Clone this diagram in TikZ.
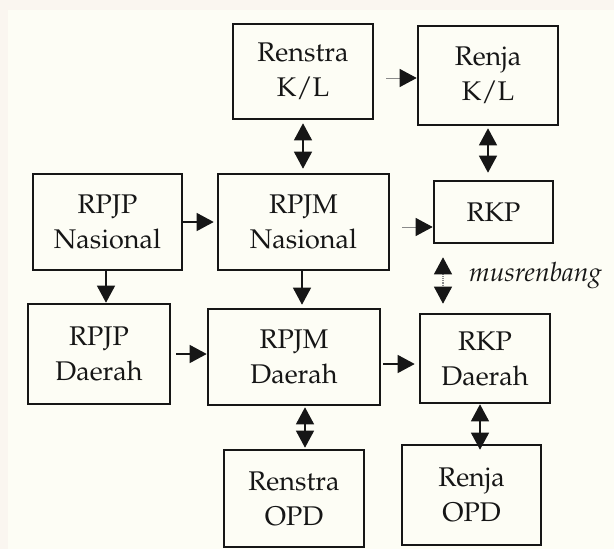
\documentclass[tikz,border=0pt]{standalone}
\usepackage[T1,TU]{fontenc}
\usetikzlibrary{arrows.meta,calc}
\newcommand\palfont{\fontencoding{T1}\fontfamily{ppl}\fontsize{27}{35}\selectfont}
\newcommand\palitfont{\fontencoding{T1}\fontfamily{ppl}\fontshape{it}\fontsize{26.5}{35}\selectfont}
\definecolor{outerbg}{HTML}{FAF6F0}
\definecolor{innerbg}{HTML}{FDFDF5}
\definecolor{ink}{HTML}{161616}
\definecolor{greyline}{HTML}{8A8A8A}
\tikzset{
  box/.style n args={2}{draw=ink, line width=2.6pt, text=ink, inner sep=0pt,
    minimum width=#1, minimum height=#2, align=center, font=\palfont},
  arr/.style={draw=ink, line width=1.3pt, -{Triangle[length=17pt,width=18pt]}},
  garr/.style={draw=greyline, line width=1pt, -{Triangle[length=17pt,width=18pt,color=ink]}},
  dbl/.style={draw=ink, line width=1.3pt, {Triangle[length=17pt,width=18pt]}-{Triangle[length=17pt,width=18pt]}},
  dbldot/.style={draw=greyline, line width=1.1pt, densely dotted, {Triangle[length=17pt,width=18pt,color=ink]}-{Triangle[length=17pt,width=18pt,color=ink]}}
}
\begin{document}
\begin{tikzpicture}[x=1pt,y=-1pt]
\useasboundingbox (0,0) rectangle (614,549);
\fill[outerbg] (0,0) rectangle (614,549);
\fill[innerbg] (8,10) rectangle (614,549);

\node[box={140pt}{95pt}] (rkl) at (303,71.5) {Renstra\\K/L};
\node[box={140pt}{99pt}] (jkl) at (488,75.5) {Renja\\K/L};
\node[box={149pt}{96pt}] (rpjpn) at (107.5,222) {RPJP\\Nasional};
\node[box={171pt}{96pt}] (rpjmn) at (303.5,222) {RPJM\\Nasional};
\node[box={119pt}{62pt}] (rkp) at (493.5,212) {RKP};
\node[box={142pt}{100pt}] (rpjpd) at (99,354) {RPJP\\Daerah};
\node[box={172pt}{96pt}] (rpjmd) at (294,357) {RPJM\\Daerah};
\node[box={130pt}{89pt}] (rkpd) at (485,358.5) {RKP\\Daerah};
\node[box={140pt}{97pt}] (ropd) at (294,498.5) {Renstra\\OPD};
\node[box={139pt}{100pt}] (jopd) at (471.5,495) {Renja\\OPD};
\node[text=ink, font=\palitfont, anchor=west, inner sep=0pt] (mus) at (469,276) {musrenbang};

% connectors
\draw[garr, shorten <=12pt] ([yshift=-6.5pt]rkl.east) -- ([yshift=-6.5pt]rkl.east -| jkl.west);
\draw[dbl, shorten <=3pt, shorten >=4pt] (rkl.south) -- (rkl.south |- rpjmn.north);
\draw[dbl, shorten <=2pt, shorten >=7pt] (jkl.south) -- (jkl.south |- rkp.north);
\draw[arr, shorten >=3pt] (rpjpn.east) -- (rpjmn.west);
\coordinate (rkpin) at ([yshift=-15pt]rkp.west);
\draw[garr, shorten <=12pt] (rpjmn.east |- rkpin) -- (rkpin);
\draw[arr] ([xshift=-1.5pt]rpjpn.south) -- ([xshift=-1.5pt]rpjpn.south |- rpjpd.north);
\draw[arr, shorten >=3pt] ([xshift=-1.5pt]rpjmn.south) -- ([xshift=-1.5pt]rpjmn.south |- rpjmd.north);
\coordinate (mtop) at ([xshift=-50.5pt,yshift=-13pt]rkp.south);
\draw[dbldot, shorten >=9pt] (mtop) -- (mtop |- rkpd.north);
\draw[arr, shorten <=5pt] (rpjpd.east) -- (rpjpd.east -| rpjmd.west);
\draw[arr, shorten <=2pt, shorten >=4pt] ([yshift=-7pt]rpjmd.east) -- ([yshift=-7pt]rpjmd.east -| rkpd.west);
\draw[dbl, shorten <=1pt, shorten >=1pt] ([xshift=11pt]rpjmd.south) -- ([xshift=11pt]rpjmd.south |- ropd.north);
\coordinate (jtop) at ([xshift=-5pt]rkpd.south);
\draw[dbl] (jtop) -- ([yshift=-6pt]jtop |- jopd.north);
\end{tikzpicture}
\end{document}
